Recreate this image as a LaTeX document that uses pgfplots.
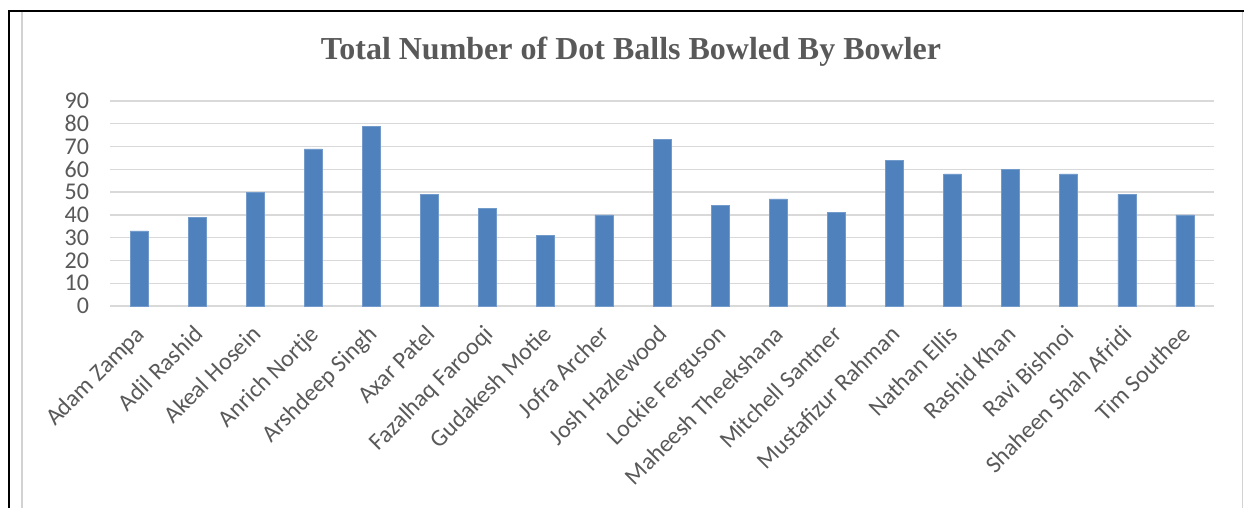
\documentclass[border=0pt]{standalone}
\usepackage{pgfplots}
\pgfplotsset{compat=1.18}
\usepackage{pgfplotstable}
\usepackage{fontspec}
\setmainfont{Carlito}
\newfontfamily\titlefont{Liberation Serif}
\definecolor{barblue}{RGB}{79,129,189}
\definecolor{txtgray}{RGB}{89,89,89}
\definecolor{gridgray}{RGB}{217,217,217}
\definecolor{framegray}{RGB}{210,210,210}
\pgfplotstableread{
x y
0 33
1 39
2 50
3 69
4 79
5 49
6 43
7 31
8 40
9 73
10 44
11 47
12 41
13 64
14 58
15 60
16 58
17 49
18 40
}\dottable
\begin{document}
\begin{tikzpicture}
\path[use as bounding box] (0pt,0pt) rectangle (622pt,-254pt);
\draw[black, line width=1pt] (4.5pt,-254pt) -- (4.5pt,-5.5pt) -- (622pt,-5.5pt);
\draw[framegray, line width=0.8pt] (11pt,-6pt) -- (11pt,-254pt);
\draw[framegray, line width=0.8pt] (621.3pt,-6pt) -- (621.3pt,-254pt);
\node[font={\titlefont\fontsize{16}{19}\selectfont\bfseries}, text=txtgray] at (315.5pt,-26pt) {Total Number of Dot Balls Bowled By Bowler};
\begin{axis}[
  at={(55pt,-153pt)}, anchor=south west,
  scale only axis, width=552pt, height=102.5pt,
  ymin=0, ymax=90, ytick distance=10,
  xmin=-0.5, xmax=18.5,
  xtick=data,
  xticklabels={Adam Zampa, Adil Rashid, Akeal Hosein, Anrich Nortje, Arshdeep Singh, Axar Patel, Fazalhaq Farooqi, Gudakesh Motie, Jofra Archer, Josh Hazlewood, Lockie Ferguson, Maheesh Theekshana, Mitchell Santner, Mustafizur Rahman, Nathan Ellis, Rashid Khan, Ravi Bishnoi, Shaheen Shah Afridi, Tim Southee},
  axis line style={draw=none},
  major tick length=0pt,
  tick style={draw=none},
  ymajorgrids, grid style={gridgray, line width=0.7pt},
  /pgf/number format/assume math mode=true,
  ticklabel style={font=\fontsize{12}{14}\selectfont, text=txtgray},
  yticklabel style={xshift=-7pt},
  xticklabel style={rotate=45, anchor=north east, inner sep=1pt, xshift=-7pt, yshift=-3.5pt},
  ybar, bar width=9pt,
]
\addplot[fill=barblue, draw=barblue!80!white, line width=0.3pt] table[x=x, y=y] {\dottable};
\end{axis}
\end{tikzpicture}
\end{document}
